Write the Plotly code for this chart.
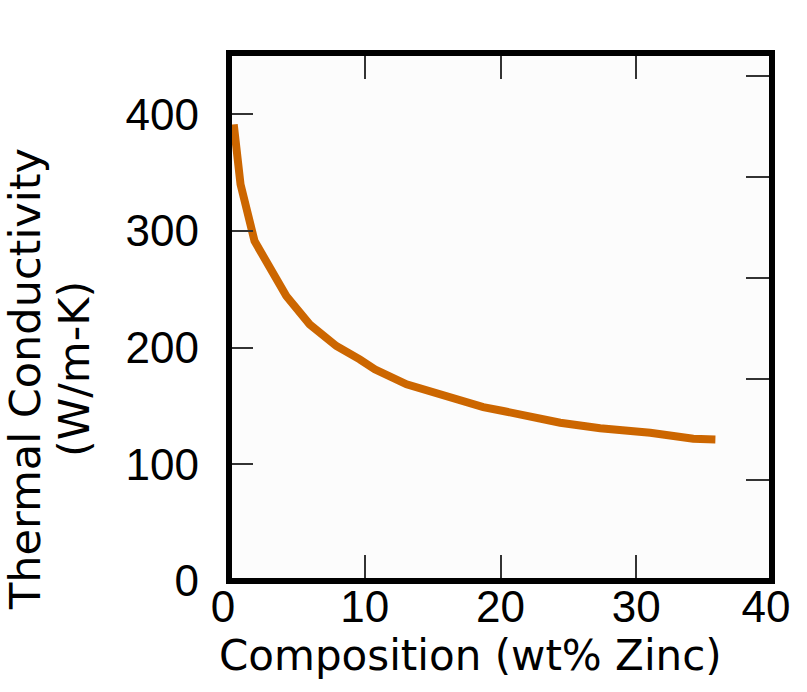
import plotly.graph_objects as go

# Data
zinc_wt_pct = [0.35, 0.85, 1.88, 4.22, 5.94, 7.91, 9.63, 10.74, 13.08, 15.78,
               18.73, 20.2, 24.4, 27.34, 31.03, 34.2, 35.83]
conductivity = [391.4, 340, 291.4, 244.3, 220, 201.4, 190, 181.4, 168.6, 158.6,
                149.1, 145.7, 135.7, 130.9, 127.1, 121.9, 121.4]

x_ticks = [0, 10, 20, 30, 40]
x_tick_text = ["0\u00a0", "10", "20", "30", "40\u00a0"]
y_ticks = [0, 100, 200, 300, 400]
btu_ticks = [50, 100, 150, 200, 250]   # right-hand (unlabelled) scale, Btu/ft-h-F
W_TO_BTU = 0.5779

X_RANGE = [0, 40]
Y_RANGE = [0, 452.6]

FONT = "Liberation Sans, Arial, Helvetica, sans-serif"
TITLE_FONT = "DejaVu Sans, Liberation Sans, sans-serif"
LINE_COLOR = "#CC6600"

W, H = 807, 692
ML, MR, MT, MB = 229, 35, 53, 111
PW, PH = W - ML - MR, H - MT - MB


def px_to_paper(px, py):
    return (px - ML) / PW, (H - MB - py) / PH


fig = go.Figure()
fig.add_trace(go.Scatter(
    x=zinc_wt_pct, y=conductivity, mode="lines",
    line=dict(color=LINE_COLOR, width=8),
    showlegend=False, hoverinfo="x+y",
))
# dummy trace to anchor the right-hand axis
fig.add_trace(go.Scatter(x=[None], y=[None], yaxis="y2", mode="lines",
                         showlegend=False, hoverinfo="skip"))

xt = px_to_paper(470, 655)
y1 = px_to_paper(25, 379)
y2 = px_to_paper(74, 369)

fig.update_layout(
    width=W, height=H,
    margin=dict(l=ML, r=MR, t=MT, b=MB),
    paper_bgcolor="white",
    plot_bgcolor="#fcfcfc",
    font=dict(family=FONT, size=44, color="black"),
    xaxis=dict(
        range=X_RANGE, tickvals=x_ticks, ticktext=x_tick_text,
        ticks="inside", ticklen=26, tickwidth=2, tickcolor="#333333",
        showline=False, mirror="ticks", automargin=False,
        showgrid=False, zeroline=False,
        tickfont=dict(family=FONT, size=44, color="black"),
        ticklabelstandoff=-4,
    ),
    yaxis=dict(
        range=Y_RANGE, tickvals=y_ticks, ticktext=[str(v) for v in y_ticks],
        ticks="inside", ticklen=24, tickwidth=2, tickcolor="#333333",
        showline=False, automargin=False,
        showgrid=False, zeroline=False,
        tickfont=dict(family=FONT, size=44, color="black"),
        ticklabelstandoff=29,
    ),
    yaxis2=dict(
        overlaying="y", side="right", automargin=False,
        range=[Y_RANGE[0] * W_TO_BTU, Y_RANGE[1] * W_TO_BTU],
        tickvals=btu_ticks, showticklabels=False,
        ticks="inside", ticklen=26, tickwidth=2, tickcolor="#333333",
        showline=False, showgrid=False, zeroline=False,
    ),
    shapes=[
        dict(type="rect", xref="paper", yref="paper", x0=0, x1=1, y0=0, y1=1,
             line=dict(color="black", width=6), fillcolor="rgba(0,0,0,0)",
             layer="above"),
    ],
    annotations=[
        dict(text="Composition (wt% Zinc)", xref="paper", yref="paper",
             x=xt[0], y=xt[1], xanchor="center", yanchor="middle", showarrow=False,
             font=dict(family=TITLE_FONT, size=42, color="black")),
        dict(text="Thermal Conductivity", xref="paper", yref="paper",
             x=y1[0], y=y1[1], xanchor="center", yanchor="middle", textangle=-90,
             showarrow=False, font=dict(family=TITLE_FONT, size=43, color="black")),
        dict(text="(W/m-K)", xref="paper", yref="paper",
             x=y2[0], y=y2[1], xanchor="center", yanchor="middle", textangle=-90,
             showarrow=False, font=dict(family=TITLE_FONT, size=43, color="black")),
    ],
)

fig.write_html("out.html", config={"displayModeBar": False},
               post_script="document.body.style.margin='0';")
